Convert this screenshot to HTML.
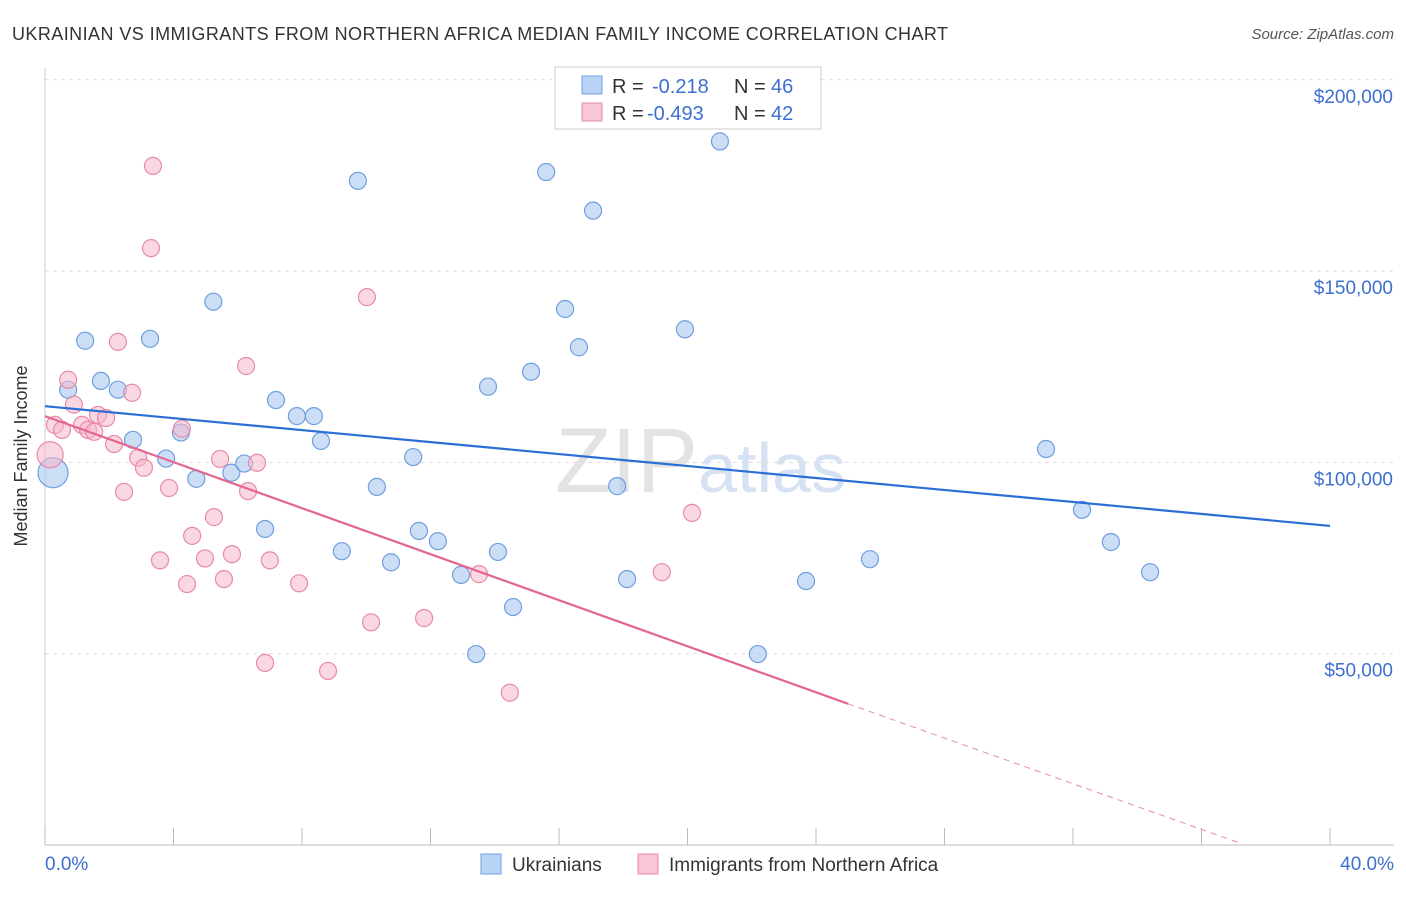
<!DOCTYPE html>
<html><head><meta charset="utf-8"><style>
body{margin:0;background:#fff;font-family:"Liberation Sans",sans-serif;}
svg text{font-family:"Liberation Sans",sans-serif;}
</style></head><body>
<svg id="c" width="1406" height="892">
<text x="12" y="40" font-size="18" fill="#333" textLength="936" lengthAdjust="spacing">UKRAINIAN VS IMMIGRANTS FROM NORTHERN AFRICA MEDIAN FAMILY INCOME CORRELATION CHART</text>
<text x="1394" y="39" font-size="15" fill="#555" text-anchor="end" font-style="italic">Source: ZipAtlas.com</text>
<text x="27" y="456" font-size="18" fill="#333" text-anchor="middle" transform="rotate(-90 27 456)">Median Family Income</text>
<text x="555" y="492" font-size="92" fill="#e3e3e3" font-family="Liberation Serif">ZIP<tspan fill="#d6e2f3" font-family="Liberation Sans" font-size="70">atlas</tspan></text>
<g id="grid"></g><g id="marks"></g>
<g>
<rect x="555" y="67" width="266" height="62" fill="#fff" stroke="#ccc"/>
<rect x="582" y="76" width="20" height="18" fill="#b8d3f5" stroke="#6f9fe0"/>
<rect x="582" y="103" width="20" height="18" fill="#f9c6d5" stroke="#e88aa8"/>
<text x="612" y="93" font-size="20" fill="#333">R =</text>
<text x="652" y="93" font-size="20" fill="#3d6fd0">-0.218</text>
<text x="734" y="93" font-size="20" fill="#333">N =</text>
<text x="771" y="93" font-size="20" fill="#3d6fd0">46</text>
<text x="612" y="120" font-size="20" fill="#333">R =</text>
<text x="647" y="120" font-size="20" fill="#3d6fd0">-0.493</text>
<text x="734" y="120" font-size="20" fill="#333">N =</text>
<text x="771" y="120" font-size="20" fill="#3d6fd0">42</text>
</g>
<g>
<rect x="481" y="854" width="20" height="20" fill="#b8d3f5" stroke="#6f9fe0"/>
<text x="512" y="871" font-size="19" fill="#333">Ukrainians</text>
<rect x="638" y="854" width="20" height="20" fill="#f9c6d5" stroke="#e88aa8"/>
<text x="669" y="871" font-size="19" fill="#333">Immigrants from Northern Africa</text>
</g>
</svg>
<script>
const blueX=[0.25,0.72,1.25,1.74,2.27,2.74,3.27,3.77,4.23,4.71,5.24,5.80,6.20,6.85,7.19,7.84,8.37,8.59,9.24,9.74,10.33,10.77,11.46,11.64,12.23,12.95,13.42,13.79,14.10,14.57,15.13,15.60,16.19,16.62,17.06,17.81,18.12,19.92,21.01,22.19,23.69,25.68,31.16,32.28,33.18,34.40];
const blueY=[97.3,119.0,131.8,121.3,119.0,105.9,132.3,101.0,107.8,95.7,142.0,97.3,99.7,82.6,116.3,112.1,112.1,105.6,76.8,173.6,93.6,73.9,101.4,82.1,79.4,70.6,49.9,119.8,76.6,62.2,123.7,175.9,140.1,130.1,165.8,93.8,69.5,134.8,183.9,49.9,69.0,74.7,103.5,87.6,79.2,71.3];
const pinkX=[0.16,0.31,0.53,0.72,0.90,1.15,1.34,1.53,1.65,1.90,2.15,2.27,2.46,2.71,2.90,3.08,3.36,3.30,3.58,3.86,4.26,4.42,4.58,4.98,5.26,5.45,5.57,5.82,6.26,6.32,6.60,6.85,7.00,7.91,8.81,10.02,10.15,11.80,13.51,14.47,19.20,20.14];
const pinkY=[102.0,109.8,108.5,121.6,115.1,109.8,108.5,108.0,112.4,111.6,104.8,131.5,92.3,118.2,101.2,98.6,177.5,156.0,74.4,93.3,108.8,68.2,80.8,74.9,85.7,100.9,69.5,76.0,125.2,92.5,99.9,47.6,74.4,68.4,45.5,143.2,58.2,59.3,70.8,39.8,71.3,86.8];
const blueLine=[114.7,83.4];
const pinkLine=[112.1,36.9,0.5];
const pinkEndX=[25.0,37.2];
const yTicks=[50000,100000,150000,200000];
const yTickLabels=["$50,000","$100,000","$150,000","$200,000"];
const xTicks=[0,4,8,12,16,20,24,28,32,36,40];
const NS="http://www.w3.org/2000/svg";
const sx=v=>45+v/40*1285, sy=v=>845-v/50*191.3;
function mk(p,t,a){const e=document.createElementNS(NS,t);for(const k in a)e.setAttribute(k,a[k]);p.appendChild(e);return e;}
const g=document.getElementById('grid'),m=document.getElementById('marks');
yTicks.forEach((v,i)=>{const y=sy(v/1000);
const l=mk(g,'line',{x1:45,x2:1394,y1:y,y2:y,stroke:'#ddd','stroke-dasharray':'4 4'});

const t=mk(g,'text',{x:1393,y:y+23,'font-size':19,fill:'#3d6fd0','text-anchor':'end'});t.textContent=yTickLabels[i];
});
const ax=mk(g,'line',{x1:45,x2:1394,y1:845,y2:845,stroke:'#bbb'});

const yax=mk(g,'line',{x1:45,x2:45,y1:68,y2:845,stroke:'#ccc'});

xTicks.forEach(v=>{const x=sx(v);const l=mk(g,'line',{x1:x,x2:x,y1:828,y2:845,stroke:'#bbb'});
});
const t0=mk(g,'text',{x:45,y:870,'font-size':19,fill:'#3d6fd0'});t0.textContent='0.0%';

const t1=mk(g,'text',{x:1394,y:870,'font-size':19,fill:'#3d6fd0','text-anchor':'end'});t1.textContent='40.0%';

blueX.forEach((x,i)=>{const c=mk(m,'circle',{cx:sx(x),cy:sy(blueY[i]),r:i==0?15:8.5,fill:'#a9c8f0','fill-opacity':0.6,stroke:'#6f9fe0','stroke-width':1.2});
});
pinkX.forEach((x,i)=>{const c=mk(m,'circle',{cx:sx(x),cy:sy(pinkY[i]),r:i==0?13:8.5,fill:'#f6b8cb','fill-opacity':0.55,stroke:'#e88aa8','stroke-width':1.2});
});
const bl=mk(m,'line',{x1:sx(0),y1:sy(blueLine[0]),x2:sx(40),y2:sy(blueLine[1]),stroke:'#2b6fd6','stroke-width':2.2});

const pl=mk(m,'line',{x1:sx(0),y1:sy(pinkLine[0]),x2:sx(pinkEndX[0]),y2:sy(pinkLine[1]),stroke:'#e3668f','stroke-width':2.2});

const pd=mk(m,'line',{x1:sx(pinkEndX[0]),y1:sy(pinkLine[1]),x2:sx(pinkEndX[1]),y2:sy(pinkLine[2]),stroke:'#e88aa8','stroke-width':1,'stroke-dasharray':'6 5'});

</script>
</body></html>
